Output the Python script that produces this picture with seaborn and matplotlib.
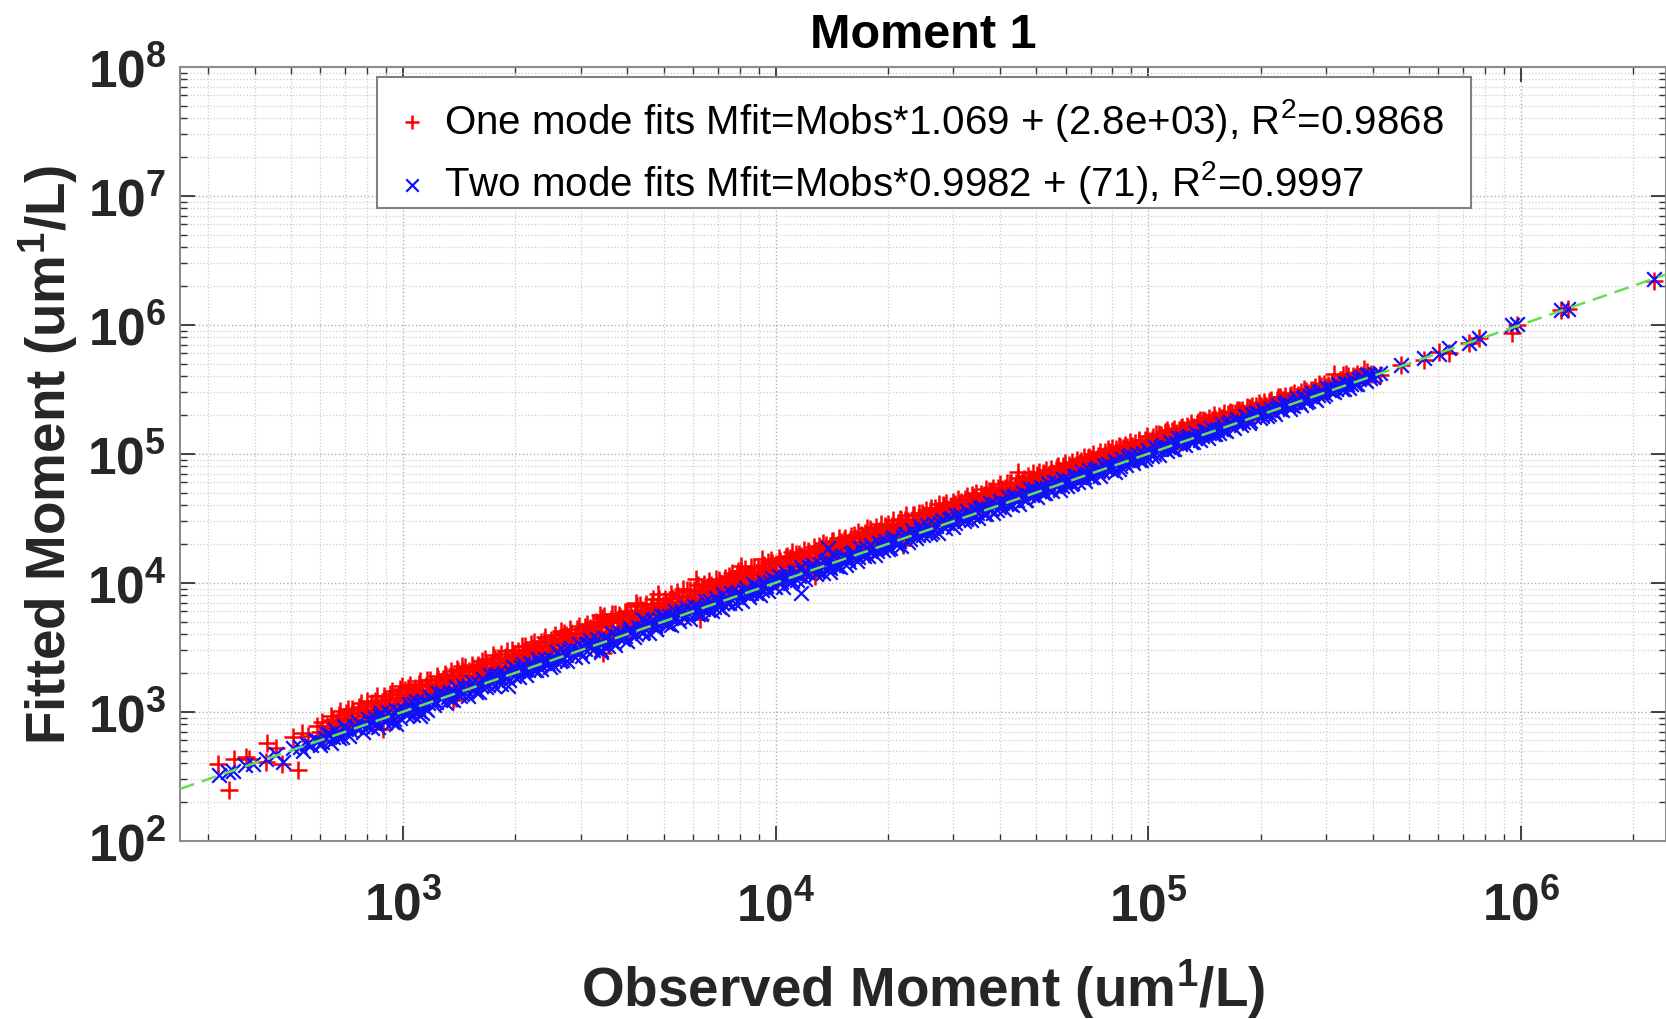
import numpy as np
import pandas as pd
import matplotlib
matplotlib.use("Agg")
import matplotlib.pyplot as plt
import seaborn as sns
from matplotlib.patches import Rectangle
from matplotlib.ticker import FixedLocator, FuncFormatter, LogLocator, NullFormatter

sns.set_theme(style="white")
plt.rcParams["font.family"] = ["Liberation Sans", "DejaVu Sans"]
plt.rcParams["mathtext.fontset"] = "custom"
plt.rcParams["mathtext.rm"] = "Liberation Sans"
plt.rcParams["mathtext.bf"] = "Liberation Sans:bold"
plt.rcParams["mathtext.it"] = "Liberation Sans:italic"
plt.rcParams["mathtext.default"] = "regular"

# ---------------------------------------------------------------------------
# Data: log10 of the observed moment, and the offset of the fitted moment
# from the 1:1 line in hundredths of a decade (log10(fit/obs) * 100).
# ---------------------------------------------------------------------------

# one-mode fits, sparse low end
one_low_obs = [2.504, 2.533, 2.546, 2.578, 2.586, 2.632, 2.634, 2.660, 2.676, 2.705,
               2.717, 2.728, 2.744, 2.768, 2.776]
one_low_gap = [9, -14, 9, 7, 5, -2, 12, 6, -8, 10,
               -17, 11, 7, 12, 7]

# one-mode fits, dense band
one_band_obs = [
    2.783, 2.791, 2.797, 2.806, 2.811, 2.819, 2.828, 2.836, 2.842, 2.851, 2.859, 2.866, 2.874, 2.883, 2.894,
    2.902, 2.907, 2.913, 2.921, 2.926, 2.934, 2.941, 2.948, 2.956, 2.962, 2.969, 2.977, 2.983, 2.989, 2.996,
    3.003, 3.008, 3.014, 3.021, 3.027, 3.033, 3.041, 3.046, 3.052, 3.061, 3.066, 3.072, 3.079, 3.087, 3.093,
    3.101, 3.106, 3.112, 3.119, 3.124, 3.131, 3.138, 3.144, 3.151, 3.157, 3.163, 3.171, 3.177, 3.184, 3.191, 3.197,
    3.202, 3.208, 3.213, 3.219, 3.226, 3.232, 3.238, 3.246, 3.251, 3.258, 3.264, 3.271, 3.277, 3.283, 3.291, 3.296,
    3.303, 3.309, 3.314, 3.321, 3.327, 3.334, 3.339, 3.346, 3.352, 3.359, 3.366, 3.372, 3.378, 3.385, 3.391, 3.398,
    3.402, 3.407, 3.415, 3.421, 3.426, 3.433, 3.439, 3.444, 3.452, 3.458, 3.465, 3.471, 3.476, 3.484, 3.489, 3.496,
    3.501, 3.508, 3.513, 3.519, 3.527, 3.532, 3.538, 3.545, 3.551, 3.557, 3.564, 3.569, 3.577, 3.583, 3.588, 3.596,
    3.603, 3.609, 3.614, 3.622, 3.627, 3.633, 3.641, 3.646, 3.652, 3.658, 3.665, 3.671, 3.678, 3.684, 3.689, 3.697,
    3.702, 3.707, 3.714, 3.720, 3.726, 3.733, 3.739, 3.745, 3.752, 3.758, 3.764, 3.771, 3.777, 3.783, 3.791, 3.796,
    3.801, 3.808, 3.814, 3.819, 3.826, 3.832, 3.839, 3.846, 3.851, 3.858, 3.864, 3.871, 3.877, 3.884, 3.890, 3.897,
    3.903, 3.908, 3.915, 3.921, 3.927, 3.934, 3.940, 3.946, 3.953, 3.959, 3.964, 3.972, 3.978, 3.983, 3.990, 3.996,
    4.002, 4.009, 4.014, 4.020, 4.027, 4.033, 4.038, 4.045, 4.052, 4.058, 4.063, 4.071, 4.077, 4.083, 4.089, 4.096,
    4.103, 4.108, 4.114, 4.121, 4.126, 4.132, 4.139, 4.145, 4.151, 4.158, 4.164, 4.170, 4.177, 4.183, 4.190, 4.196,
    4.201, 4.207, 4.214, 4.220, 4.226, 4.233, 4.239, 4.245, 4.252, 4.257, 4.265, 4.270, 4.278, 4.283, 4.289, 4.297,
    4.302, 4.309, 4.314, 4.321, 4.327, 4.333, 4.340, 4.346, 4.351, 4.358, 4.365, 4.371, 4.376, 4.384, 4.390, 4.395,
    4.403, 4.408, 4.415, 4.420, 4.427, 4.432, 4.439, 4.446, 4.452, 4.458, 4.463, 4.471, 4.477, 4.482, 4.490, 4.496,
    4.501, 4.508, 4.514, 4.519, 4.526, 4.533, 4.538, 4.545, 4.551, 4.558, 4.564, 4.570, 4.577, 4.584, 4.589, 4.596,
    4.603, 4.608, 4.614, 4.621, 4.627, 4.632, 4.639, 4.645, 4.651, 4.658, 4.665, 4.670, 4.677, 4.683, 4.690, 4.697,
    4.702, 4.707, 4.713, 4.720, 4.726, 4.733, 4.739, 4.744, 4.752, 4.758, 4.764, 4.771, 4.776, 4.783, 4.789, 4.795,
    4.801, 4.808, 4.814, 4.820, 4.826, 4.833, 4.839, 4.846, 4.851, 4.858, 4.864, 4.870, 4.877, 4.884, 4.889, 4.896,
    4.903, 4.909, 4.914, 4.921, 4.927, 4.932, 4.938, 4.946, 4.952, 4.957, 4.965, 4.971, 4.976, 4.983, 4.990, 4.996,
    5.002, 5.008, 5.013, 5.020, 5.027, 5.033, 5.038, 5.046, 5.051, 5.058, 5.064, 5.070, 5.077, 5.083, 5.090, 5.096,
    5.103, 5.108, 5.115, 5.120, 5.126, 5.133, 5.139, 5.144, 5.151, 5.158, 5.164, 5.170, 5.177, 5.183, 5.189, 5.196,
    5.202, 5.209, 5.214, 5.220, 5.227, 5.233, 5.238, 5.246, 5.252, 5.257, 5.264, 5.271, 5.277, 5.283, 5.289, 5.296,
    5.303, 5.310, 5.316, 5.323, 5.330, 5.337, 5.344, 5.352, 5.360, 5.367, 5.375, 5.383, 5.392,
    5.402, 5.410, 5.419, 5.428, 5.437, 5.446, 5.455, 5.463, 5.472, 5.481, 5.499,
    5.506, 5.514, 5.522, 5.530, 5.541, 5.550, 5.561, 5.572, 5.579, 5.598,
]
one_band_gap = [
    14, 4, 9, 16, 12, 7, 15, 3, 11, 17, 8, 13, 5, 15, 10,
    18, 6, 13, 9, 16, 4, 12, 17, 8, 14, 19, 5, 11, 15, 20,
    8, 13, 17, 4, 11, 15, 9, 19, 6, 14, 10, 17, 3, 12, 16,
    7, 14, 18, 10, 4, 15, 12, 19, 8, 16, 11, 5, 14, 18, 9, 13,
    16, 7, 12, 19, 10, 4, 14, 17, 8, 12, 18, 6, 15, 10, 19, 13,
    9, 16, 5, 13, 18, 11, 7, 15, 19, 10, 14, 4, 17, 12, 8, 16,
    13, 19, 6, 15, 10, 18, 12, 4, 16, 9, 14, 19, 7, 12, 17, 10,
    15, 5, 12, 18, 9, 14, 20, 11, 6, 16, 13, 19, 8, 15, 11, 18,
    10, 16, 5, 13, 19, 9, 15, 12, 18, 7, 14, 20, 11, 16, 4, 13,
    17, 9, 14, 19, 6, 12, 16, 10, 20, 13, 7, 17, 11, 15, 19, 8,
    14, 18, 10, 5, 16, 12, 19, 8, 15, 11, 17, 6, 14, 19, 10, 16,
    12, 18, 7, 15, 10, 19, 13, 5, 17, 11, 15, 8, 18, 12, 16, 9,
    14, 18, 6, 12, 17, 10, 15, 19, 8, 13, 16, 11, 18, 5, 14, 10,
    17, 12, 8, 15, 18, 11, 6, 14, 17, 9, 13, 18, 10, 15, 7, 12,
    16, 9, 13, 17, 6, 11, 15, 18, 10, 14, 8, 16, 12, 17, 5, 13,
    15, 10, 17, 7, 13, 16, 11, 14, 17, 8, 12, 15, 10, 16, 6, 13,
    16, 11, 14, 7, 15, 12, 17, 9, 14, 16, 6, 12, 15, 10, 16, 13,
    8, 14, 16, 11, 5, 13, 16, 9, 14, 12, 16, 7, 13, 15, 10, 14,
    16, 8, 12, 15, 10, 14, 6, 13, 16, 11, 14, 8, 15, 12, 16, 9,
    13, 15, 7, 12, 15, 10, 14, 5, 12, 15, 9, 13, 15, 8, 11, 14,
    10, 14, 6, 12, 15, 9, 13, 11, 15, 7, 12, 14, 10, 13, 5, 12,
    14, 9, 12, 14, 6, 11, 13, 8, 14, 10, 12, 5, 13, 9, 12, 14,
    10, 7, 12, 13, 9, 11, 5, 12, 13, 8, 11, 12, 6, 10, 12, 9,
    11, 7, 12, 9, 4, 11, 12, 8, 10, 6, 11, 9, 12, 5, 10, 8,
    11, 6, 9, 10, 4, 8, 10, 7, 9, 5, 10, 8, 9, 4, 8, 10,
    7, 9, 5, 8, 9, 4, 7, 9, 6, 8, 3, 7, 8,
    5, 7, 8, 4, 6, 7, 3, 6, 7, 5, 12,
    4, 6, 9, 9, 3, 5, 6, 4, 8, 2,
]

# one-mode fits, further points packed inside the band
one_fill_obs = [
    2.800, 2.808, 2.815, 2.824, 2.832, 2.839, 2.847, 2.855, 2.862, 2.870, 2.879, 2.887, 2.897,
    2.904, 2.910, 2.917, 2.924, 2.930, 2.938, 2.944, 2.952, 2.959, 2.965, 2.973, 2.980, 2.986, 2.993,
    3.001, 3.006, 3.012, 3.018, 3.024, 3.031, 3.037, 3.043, 3.049, 3.056, 3.063, 3.069, 3.076, 3.083, 3.090, 3.097,
    3.103, 3.109, 3.116, 3.122, 3.128, 3.134, 3.141, 3.147, 3.154, 3.160, 3.167, 3.174, 3.180, 3.187, 3.194,
    3.200, 3.206, 3.211, 3.217, 3.223, 3.229, 3.236, 3.242, 3.248, 3.255, 3.261, 3.268, 3.274, 3.280, 3.287, 3.294,
    3.301, 3.306, 3.312, 3.318, 3.324, 3.330, 3.337, 3.343, 3.349, 3.356, 3.362, 3.369, 3.375, 3.381, 3.388, 3.394,
    3.400, 3.404, 3.411, 3.418, 3.423, 3.429, 3.436, 3.442, 3.449, 3.455, 3.462, 3.468, 3.474, 3.480, 3.487, 3.493,
    3.503, 3.510, 3.516, 3.522, 3.529, 3.535, 3.541, 3.548, 3.554, 3.560, 3.567, 3.573, 3.580, 3.586, 3.592, 3.599,
    3.601, 3.606, 3.611, 3.617, 3.624, 3.630, 3.636, 3.643, 3.649, 3.655, 3.661, 3.668, 3.674, 3.681, 3.687, 3.693,
    3.700, 3.705, 3.711, 3.717, 3.723, 3.729, 3.736, 3.742, 3.748, 3.755, 3.761, 3.767, 3.774, 3.780, 3.786, 3.793,
    3.803, 3.810, 3.816, 3.822, 3.829, 3.835, 3.842, 3.848, 3.854, 3.861, 3.867, 3.874, 3.880, 3.887, 3.893, 3.899,
    3.900, 3.906, 3.912, 3.918, 3.924, 3.931, 3.937, 3.943, 3.950, 3.956, 3.962, 3.968, 3.975, 3.981, 3.987, 3.993,
    4.000, 4.006, 4.011, 4.017, 4.024, 4.030, 4.036, 4.042, 4.049, 4.055, 4.061, 4.068, 4.074, 4.080, 4.086, 4.093,
    4.100, 4.106, 4.111, 4.117, 4.123, 4.129, 4.136, 4.142, 4.148, 4.155, 4.161, 4.167, 4.174, 4.180, 4.187, 4.193,
    4.204, 4.210, 4.217, 4.223, 4.229, 4.236, 4.242, 4.248, 4.254, 4.260, 4.267, 4.273, 4.280, 4.286, 4.292, 4.299,
    4.300, 4.306, 4.312, 4.318, 4.324, 4.330, 4.337, 4.343, 4.349, 4.355, 4.362, 4.368, 4.374, 4.380, 4.387, 4.393,
    4.401, 4.406, 4.412, 4.418, 4.424, 4.430, 4.436, 4.443, 4.449, 4.455, 4.461, 4.468, 4.474, 4.480, 4.486, 4.493,
    4.503, 4.510, 4.516, 4.522, 4.528, 4.535, 4.541, 4.548, 4.554, 4.560, 4.567, 4.573, 4.580, 4.586, 4.592, 4.599,
    4.601, 4.606, 4.612, 4.618, 4.624, 4.630, 4.636, 4.642, 4.648, 4.655, 4.661, 4.668, 4.674, 4.680, 4.687, 4.693,
    4.700, 4.705, 4.711, 4.717, 4.723, 4.729, 4.736, 4.742, 4.748, 4.755, 4.761, 4.767, 4.774, 4.780, 4.786, 4.792,
    4.803, 4.810, 4.816, 4.823, 4.829, 4.836, 4.842, 4.848, 4.855, 4.861, 4.867, 4.874, 4.880, 4.886, 4.893, 4.899,
    4.901, 4.907, 4.912, 4.918, 4.924, 4.930, 4.936, 4.943, 4.949, 4.955, 4.961, 4.968, 4.974, 4.980, 4.987, 4.993,
    5.004, 5.010, 5.016, 5.023, 5.029, 5.036, 5.042, 5.048, 5.054, 5.061, 5.067, 5.074, 5.080, 5.087, 5.093, 5.099,
    5.101, 5.106, 5.112, 5.118, 5.124, 5.130, 5.136, 5.142, 5.148, 5.155, 5.161, 5.167, 5.174, 5.180, 5.186, 5.192,
    5.200, 5.206, 5.212, 5.218, 5.224, 5.231, 5.236, 5.242, 5.249, 5.255, 5.261, 5.268, 5.274, 5.280, 5.286, 5.293,
    5.306, 5.313, 5.320, 5.327, 5.334, 5.341, 5.348, 5.356, 5.363, 5.371, 5.379, 5.387, 5.396,
    5.405, 5.414, 5.423, 5.432, 5.441, 5.450, 5.459, 5.468, 5.477, 5.486, 5.494,
    5.510, 5.518, 5.527, 5.536, 5.545, 5.556, 5.566, 5.586,
]
one_fill_gap = [
    8, 13, 2, 10, 17, 6, 14, 9, 16, 3, 11, 18, 7,
    11, 2, 15, 7, 19, 10, 3, 14, 6, 17, 9, 13, 2, 18,
    5, 16, 10, 19, 2, 13, 7, 17, 12, 3, 18, 8, 14, 6, 19, 10,
    12, 3, 16, 7, 19, 9, 2, 17, 13, 5, 18, 10, 2, 15, 6,
    3, 13, 18, 8, 15, 1, 11, 20, 5, 16, 9, 2, 13, 19, 6, 15,
    14, 2, 11, 19, 7, 15, 3, 18, 9, 13, 2, 17, 8, 20, 4, 12,
    7, 15, 2, 12, 20, 5, 16, 9, 19, 3, 11, 17, 2, 14, 8, 19,
    9, 18, 2, 14, 6, 19, 3, 15, 10, 20, 2, 12, 17, 5, 13, 3,
    18, 3, 12, 8, 16, 2, 19, 6, 14, 10, 3, 17, 8, 13, 19, 2,
    5, 13, 2, 11, 16, 3, 19, 8, 14, 2, 18, 10, 5, 16, 3, 12,
    8, 3, 15, 19, 2, 10, 4, 17, 11, 2, 13, 18, 3, 6, 12, 19,
    16, 3, 10, 19, 2, 14, 6, 18, 9, 2, 13, 17, 4, 8, 19, 3,
    9, 2, 16, 4, 13, 18, 2, 11, 5, 17, 3, 14, 8, 2, 16, 6,
    3, 14, 5, 17, 2, 9, 16, 3, 12, 17, 2, 7, 14, 4, 16, 9,
    3, 16, 2, 9, 14, 3, 7, 2, 16, 5, 12, 2, 9, 4, 15, 8,
    5, 2, 13, 3, 9, 2, 15, 6, 2, 12, 4, 16, 2, 8, 3, 15,
    2, 8, 3, 16, 4, 2, 10, 3, 15, 2, 11, 4, 2, 13, 5, 2,
    3, 11, 2, 6, 15, 2, 9, 3, 12, 2, 5, 14, 2, 8, 3, 11,
    4, 12, 2, 8, 3, 14, 2, 10, 4, 2, 13, 3, 6, 2, 11, 3,
    2, 9, 3, 13, 2, 6, 3, 11, 2, 14, 4, 2, 10, 3, 13, 2,
    4, 2, 11, 3, 7, 2, 13, 4, 2, 10, 3, 2, 8, 3, 14, 2,
    6, 3, 10, 2, 13, 3, 2, 11, 4, 2, 8, 3, 11, 2, 5, 2,
    3, 10, 2, 5, 12, 2, 8, 3, 11, 2, 4, 9, 2, 11, 3, 6,
    2, 9, 3, 6, 2, 10, 3, 2, 11, 3, 8, 2, 4, 9, 2, 3,
    8, 2, 5, 3, 9, 2, 4, 10, 2, 6, 3, 2, 8, 3, 5, 2,
    3, 6, 2, 8, 3, 2, 9, 3, 5, 2, 7, 3, 2,
    3, 2, 6, 2, 5, 3, 8, 2, 4, 3, 6,
    2, 5, 3, 7, 2, 4, 3, 5,
]

# one-mode fits, isolated points above and below the band
one_out_obs = [2.946, 3.134, 3.143, 3.536, 3.796, 4.105, 4.342,
               3.157, 3.528, 3.626, 3.684, 3.787, 3.908, 3.962, 4.650]
one_out_gap = [-8, -4, -4, -8, -8, -5, -5,
               20, 22, 22, 23, 24, 22, 22, 21]

# largest observed moments (both fits)
tail_obs = [5.622, 5.678, 5.740, 5.780, 5.807, 5.861, 5.888, 5.977, 5.988, 6.107, 6.125, 6.357]
one_tail_gap = [-1, 1, -1, 1, -3, 0, 1, -4, 1, 1, 0, -2]
two_tail_gap = [0, 1, 0, -1, 1, 0, 1, 2, 2, 1, 0, 0]

# two-mode fits, sparse low end
two_low_obs = [2.506, 2.530, 2.544, 2.575, 2.597, 2.632, 2.660, 2.678, 2.705, 2.723, 2.732]
two_low_gap = [0, 0, 0, 1, 0, 0, 1, -7, 1, 0, -4]

# two-mode fits, dense band
two_band_obs = [
    2.741, 2.752, 2.763, 2.771, 2.782, 2.790, 2.801, 2.812, 2.823, 2.836, 2.848, 2.861, 2.874, 2.889,
    2.903, 2.911, 2.921, 2.929, 2.937, 2.947, 2.955, 2.966, 2.976, 2.987,
    3.002, 3.012, 3.021, 3.030, 3.039, 3.049, 3.058, 3.067, 3.078, 3.089,
    3.101, 3.110, 3.121, 3.129, 3.139, 3.148, 3.157, 3.168, 3.178, 3.190,
    3.200, 3.209, 3.219, 3.228, 3.238, 3.247, 3.258, 3.268, 3.277, 3.289,
    3.298, 3.308, 3.317, 3.327, 3.336, 3.347, 3.356, 3.366, 3.377, 3.388,
    3.398, 3.407, 3.418, 3.427, 3.436, 3.446, 3.457, 3.466, 3.476, 3.487,
    3.497, 3.506, 3.516, 3.526, 3.535, 3.545, 3.555, 3.566, 3.575, 3.586,
    3.596, 3.606, 3.615, 3.625, 3.636, 3.645, 3.654, 3.665, 3.675, 3.686,
    3.696, 3.705, 3.715, 3.724, 3.735, 3.745, 3.754, 3.764, 3.775, 3.786,
    3.795, 3.805, 3.814, 3.825, 3.834, 3.844, 3.855, 3.864, 3.874, 3.886,
    3.895, 3.904, 3.915, 3.924, 3.934, 3.944, 3.953, 3.964, 3.975, 3.985,
    3.995, 4.004, 4.014, 4.024, 4.033, 4.043, 4.054, 4.063, 4.073, 4.084,
    4.094, 4.104, 4.113, 4.123, 4.133, 4.143, 4.152, 4.163, 4.172, 4.183,
    4.193, 4.203, 4.212, 4.222, 4.233, 4.242, 4.252, 4.261, 4.272, 4.282,
    4.292, 4.302, 4.311, 4.322, 4.331, 4.341, 4.351, 4.361, 4.370, 4.381,
    4.391, 4.401, 4.412, 4.420, 4.431, 4.441, 4.450, 4.461, 4.470, 4.481,
    4.490, 4.501, 4.510, 4.519, 4.529, 4.540, 4.549, 4.559, 4.569, 4.579,
    4.589, 4.598, 4.608, 4.618, 4.628, 4.638, 4.648, 4.658, 4.668, 4.678,
    4.688, 4.697, 4.707, 4.717, 4.727, 4.737, 4.747, 4.757, 4.767, 4.777,
    4.787, 4.796, 4.806, 4.816, 4.826, 4.836, 4.846, 4.856, 4.866, 4.876,
    4.886, 4.895, 4.905, 4.915, 4.925, 4.935, 4.945, 4.955, 4.965, 4.975,
    4.985, 4.994, 5.004, 5.014, 5.024, 5.034, 5.044, 5.054, 5.064, 5.074,
    5.084, 5.094, 5.104, 5.114, 5.124, 5.134, 5.144, 5.154, 5.164, 5.174,
    5.184, 5.194, 5.204, 5.214, 5.224, 5.234, 5.244, 5.254, 5.264, 5.274,
    5.284, 5.294, 5.304, 5.314, 5.324, 5.334, 5.344, 5.354, 5.364, 5.374,
    5.384, 5.394, 5.404, 5.414, 5.424, 5.434, 5.444, 5.454, 5.464, 5.474,
    5.484, 5.494, 5.504, 5.514, 5.524, 5.534, 5.544, 5.554, 5.566, 5.578,
    5.588, 5.596, 5.607,
]
two_band_gap = [
    1, -1, 2, 0, -2, 1, 3, -1, 0, -3, 2, -1, 1, 0,
    -1, 2, 0, -2, 3, 1, -1, 0, -3, 2,
    1, -2, 0, 3, -1, 2, -3, 0, 1, -1,
    0, 2, -1, -3, 1, 3, -2, 0, 2, -1,
    2, -1, 1, -2, 0, 3, -3, 1, -1, 2,
    -2, 1, 3, 0, -1, 2, -3, 1, 0, -2,
    1, -1, 2, -3, 0, 3, -2, 1, -1, 0,
    3, 0, -2, 1, -1, 2, 0, -3, 1, 2,
    -1, 2, 1, -2, 0, -3, 2, 1, -1, 3,
    0, -2, 3, 1, -1, 2, -3, 0, 1, -2,
    2, -1, 0, 3, -2, 1, -1, 2, -3, 0,
    1, -3, 2, 0, -1, 3, 1, -2, 0, 2,
    -2, 1, -1, 2, 0, -3, 3, -1, 1, 0,
    2, 0, -2, 1, 3, -1, 0, -3, 2, 1,
    -1, 2, 1, -2, 0, 3, -1, 1, -3, 0,
    1, -2, 2, 0, -1, 1, 3, -2, 0, -1,
    2, -1, 0, -3, 1, 2, -1, 0, 3, -2,
    0, 1, -2, 2, -1, 0, 3, -3, 1, -1,
    2, -1, 1, 0, -2, 3, -1, 1, -3, 0,
    -1, 2, 0, -2, 1, -1, 3, 0, -2, 1,
    1, -2, 2, 0, -1, 1, -3, 2, 0, -1,
    0, 2, -1, 1, -2, 0, 3, -1, 1, -2,
    2, -1, 0, -2, 1, 2, -1, 0, -3, 1,
    -1, 1, 2, -2, 0, 1, -1, 2, 0, -2,
    1, 0, -2, 2, -1, 1, 0, -1, 2, -2,
    0, 2, -1, 1, -2, 0, 1, -1, 2, 0,
    -1, 1, 0, 2, -2, 1, -1, 0, 2, -1,
    1, -1, 0, 2, -2, 1, 0, -1, 1, 0,
    2, -1, 1,
]

# two-mode fits, outer edge of the band
two_fill_obs = [
    2.778, 2.795, 2.806, 2.817, 2.829, 2.842, 2.854, 2.867, 2.880, 2.893,
    2.907, 2.916, 2.925, 2.933, 2.942, 2.951, 2.960, 2.971, 2.981, 2.993,
    3.007, 3.016, 3.026, 3.035, 3.044, 3.053, 3.063, 3.072, 3.083, 3.094,
    3.105, 3.115, 3.125, 3.134, 3.143, 3.153, 3.162, 3.173, 3.184, 3.195,
    3.204, 3.214, 3.223, 3.233, 3.243, 3.252, 3.263, 3.272, 3.283, 3.294,
    3.303, 3.312, 3.322, 3.331, 3.341, 3.351, 3.361, 3.371, 3.382, 3.393,
    3.403, 3.412, 3.422, 3.431, 3.441, 3.451, 3.461, 3.471, 3.481, 3.492,
    3.502, 3.511, 3.521, 3.530, 3.540, 3.550, 3.560, 3.570, 3.580, 3.591,
    3.601, 3.610, 3.620, 3.630, 3.640, 3.650, 3.659, 3.670, 3.680, 3.691,
    3.700, 3.710, 3.719, 3.729, 3.740, 3.749, 3.759, 3.769, 3.780, 3.791,
    3.800, 3.809, 3.819, 3.829, 3.839, 3.849, 3.859, 3.869, 3.879, 3.890,
    3.899, 3.909, 3.919, 3.929, 3.939, 3.948, 3.958, 3.969, 3.979, 3.990,
    3.999, 4.009, 4.019, 4.028, 4.038, 4.048, 4.058, 4.068, 4.078, 4.089,
    4.099, 4.108, 4.118, 4.128, 4.138, 4.147, 4.157, 4.167, 4.177, 4.188,
    4.198, 4.207, 4.217, 4.227, 4.237, 4.247, 4.256, 4.266, 4.277, 4.287,
    4.297, 4.306, 4.316, 4.326, 4.336, 4.346, 4.356, 4.366, 4.376, 4.386,
    4.396, 4.405, 4.415, 4.425, 4.435, 4.445, 4.455, 4.465, 4.475, 4.485,
    4.495, 4.505, 4.514, 4.524, 4.534, 4.544, 4.554, 4.564, 4.574, 4.584,
    4.594, 4.603, 4.613, 4.623, 4.633, 4.643, 4.653, 4.663, 4.673, 4.683,
    4.693, 4.702, 4.712, 4.722, 4.732, 4.742, 4.752, 4.762, 4.772, 4.782,
    4.792, 4.801, 4.811, 4.821, 4.831, 4.841, 4.851, 4.861, 4.871, 4.881,
    4.891, 4.900, 4.910, 4.920, 4.930, 4.940, 4.950, 4.960, 4.970, 4.980,
    4.990, 4.999, 5.009, 5.019, 5.029, 5.039, 5.049, 5.059, 5.069, 5.079,
    5.089, 5.099, 5.109, 5.119, 5.129, 5.139, 5.149, 5.159, 5.169, 5.179,
    5.189, 5.199, 5.209, 5.219, 5.229, 5.239, 5.249, 5.259, 5.269, 5.279,
    5.289, 5.299, 5.309, 5.319, 5.329, 5.339, 5.349, 5.359, 5.369, 5.379,
    5.389, 5.399, 5.409, 5.419, 5.429, 5.439, 5.449, 5.459, 5.469, 5.479,
    5.489, 5.499, 5.509, 5.519, 5.529, 5.539, 5.549, 5.561, 5.572, 5.583, 5.593, 5.602,
]
two_fill_gap = [
    -4, 3, -5, 4, -3, 5, -4, 2, 4, -5,
    4, -4, 3, -5, 5, -3, 4, -5, 3, -4,
    -3, 4, -5, 5, -4, 3, -5, 4, -3, 5,
    4, -5, 3, -4, 5, -3, 4, -5, 5, -4,
    -5, 4, -3, 5, -4, 4, -5, 3, -4, 5,
    3, -4, 5, -5, 4, -3, 5, -4, 3, -5,
    -4, 5, -3, 4, -5, 4, -4, 5, -5, 3,
    5, -3, 4, -5, 3, -4, 5, -5, 4, -3,
    -5, 4, -4, 3, -3, 5, -5, 4, -4, 5,
    4, -3, -5, 5, -4, 3, 5, -5, 4, -3,
    -4, 5, -3, -5, 4, -4, 5, -3, 4, -5,
    3, -5, 4, -4, 5, -3, -5, 4, -4, 5,
    -3, 4, -5, 5, -4, 3, -4, 5, -5, 3,
    4, -4, 3, -5, 4, -3, 5, -4, 3, -5,
    -4, 3, -5, 4, -3, -4, 4, -5, 3, -3,
    3, -4, 4, -3, -5, 3, -4, 4, -3, 5,
    -3, 4, -4, 3, -5, 4, -3, 3, -4, 4,
    3, -3, 4, -4, 3, -4, 3, -3, 4, -4,
    -3, 3, -4, 4, -3, 3, -4, 3, -3, 4,
    3, -4, 3, -3, 4, -3, 3, -4, 3, -3,
    -3, 3, -3, 4, -4, 3, -3, 3, -4, 3,
    3, -3, 3, -4, 3, -3, 4, -3, 3, -3,
    -3, 3, -3, 3, -4, 3, -3, 3, -3, 4,
    3, -3, 3, -3, 3, -3, 3, -4, 3, -3,
    -3, 3, -3, 3, -3, 3, -3, 3, -3, 3,
    3, -2, 3, -3, 2, -3, 3, -2, 3, -3,
    -2, 3, -3, 2, -2, 3, -3, 2, -2, 3,
    2, -2, 3, -2, 2, -3, 2, -2, 2, -2, 2, -1,
]

# two-mode fits, isolated points
two_out_obs = [2.982, 3.045, 3.050, 3.282, 3.532, 3.680, 3.855, 4.069,
               4.141, 4.145, 4.172, 4.302, 3.640, 4.910]
two_out_gap = [-8, -8, -6, -8, -7, -4, -6, -15,
               13, -6, -5, -4, 8, -5]

one_label = r"One mode fits Mfit=Mobs*1.069 + (2.8e+03), R$^{2}$=0.9868"
two_label = r"Two mode fits Mfit=Mobs*0.9982 + (71), R$^{2}$=0.9997"

x_limits = (252, 2.45e6)
y_limits = (1e2, 1e8)
x_decades = [3, 4, 5, 6]
y_decades = [2, 3, 4, 5, 6, 7, 8]


def build_frame(obs_parts, gap_parts):
    obs = np.concatenate([np.asarray(p, dtype=float) for p in obs_parts])
    gap = np.concatenate([np.asarray(p, dtype=float) for p in gap_parts])
    return pd.DataFrame({"Observed": 10 ** obs, "Fitted": 10 ** (obs + gap / 100.0)})


one_df = build_frame([one_low_obs, one_band_obs, one_fill_obs, one_out_obs, tail_obs],
                     [one_low_gap, one_band_gap, one_fill_gap, one_out_gap, one_tail_gap])
two_df = build_frame([two_low_obs, two_fill_obs, two_band_obs, two_out_obs, tail_obs],
                     [two_low_gap, two_fill_gap, two_band_gap, two_out_gap, two_tail_gap])

W, H = 1666, 1020
fig = plt.figure(figsize=(W / 100, H / 100), dpi=100)
ax = fig.add_axes([180 / W, 1 - 841.7 / H, (W - 180) / W, 774 / H])
ax.set_xscale("log")
ax.set_yscale("log")

sns.scatterplot(data=one_df, x="Observed", y="Fitted", marker="+", color="#ff0000",
                s=160, linewidth=1.8, ax=ax, label=one_label, zorder=3)
sns.scatterplot(data=two_df, x="Observed", y="Fitted", marker="x", color="#1010ff",
                s=110, linewidth=1.6, ax=ax, label=two_label, zorder=4)

# 1:1 reference line across the full axis range
ax.plot(x_limits, x_limits, color="#66dd55", linewidth=1.8,
        linestyle=(0, (6, 3.2)), zorder=5)

ax.set_xlim(*x_limits)
ax.set_ylim(*y_limits)

fmt = FuncFormatter(lambda v, p: r"$\mathbf{10^{%d}}$" % int(round(np.log10(v))))
ax.xaxis.set_major_locator(FixedLocator([10.0 ** d for d in x_decades]))
ax.yaxis.set_major_locator(FixedLocator([10.0 ** d for d in y_decades]))
ax.xaxis.set_major_formatter(fmt)
ax.yaxis.set_major_formatter(fmt)
for axis in (ax.xaxis, ax.yaxis):
    axis.set_minor_locator(LogLocator(base=10, subs=np.arange(2, 10), numticks=50))
    axis.set_minor_formatter(NullFormatter())

ax.tick_params(which="both", direction="in", top=True, right=True, bottom=True, left=True,
               color="#333333", labelcolor="#262626")
ax.tick_params(which="major", length=11, width=1.3, labelsize=37)
ax.tick_params(which="minor", length=5, width=1.0)
ax.tick_params(axis="x", which="major", pad=29)
ax.tick_params(axis="y", which="major", pad=10)

ax.grid(which="major", linestyle=":", color="#b0b0b0", linewidth=1.0)
ax.grid(which="minor", linestyle=":", color="#cdcdcd", linewidth=0.9)
ax.set_axisbelow(True)

for s in ax.spines.values():
    s.set_color("#8c8c8c")
    s.set_linewidth(1.5)

ax.set_title("Moment 1", fontsize=35, fontweight="bold", color="black", pad=14)
ax.set_xlabel(r"Observed Moment (um$^{\mathbf{1}}$/L)", fontsize=39.5, fontweight="bold",
              color="#262626")
ax.set_ylabel(r"Fitted Moment (um$^{\mathbf{1}}$/L)", fontsize=39.5, fontweight="bold",
              color="#262626")
ax.xaxis.set_label_coords(0.5, -0.150)
ax.yaxis.set_label_coords(-0.0673, 0.5)

# legend box drawn as a plain rectangle; entries placed inside it
box = Rectangle((377 / W, 1 - 209 / H), (1471 - 377) / W, (209 - 78) / H,
                transform=fig.transFigure, facecolor="white", edgecolor="#808080",
                linewidth=1.5, zorder=6, clip_on=False)
ax.add_patch(box)

leg = ax.legend(loc="center left", bbox_to_anchor=(392 / W, 1 - 151.5 / H),
                bbox_transform=fig.transFigure, fontsize=29, frameon=False,
                borderpad=0, handlelength=1.0, handletextpad=0.3,
                labelspacing=0.38, borderaxespad=0, scatterpoints=1, markerscale=0.85)
leg.set_zorder(7)
for t in leg.get_texts():
    t.set_color("black")

fig.savefig("out.png", dpi=100)
